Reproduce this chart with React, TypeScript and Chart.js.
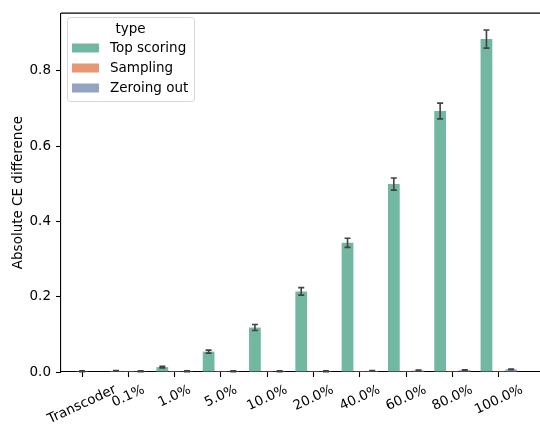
import React, { useEffect, useRef } from 'react';
import { Chart, registerables } from 'chart.js';

Chart.register(...registerables);

const categories = ['Transcoder', '0.1%', '1.0%', '5.0%', '10.0%', '20.0%', '40.0%', '60.0%', '80.0%', '100.0%'];
const seriesNames = ['Top scoring', 'Sampling', 'Zeroing out'];

const topScoring = [null, 0.003, 0.013, 0.054, 0.118, 0.214, 0.343, 0.499, 0.693, 0.884];
const topScoringErr = [null, 0.001, 0.002, 0.004, 0.008, 0.01, 0.012, 0.016, 0.021, 0.024];
const sampling = [0.002, 0.0003, 0.0003, 0.0003, 0.0003, 0.0003, 0.0003, 0.0003, 0.0003, 0.0003];
const samplingErr = [0.001, 0, 0, 0, 0, 0, 0, 0, 0, 0];
const zeroingOut = [null, 0.002, 0.002, 0.002, 0.002, 0.002, 0.003, 0.004, 0.005, 0.007];
const zeroingOutErr = [null, 0.001, 0.001, 0.001, 0.001, 0.001, 0.001, 0.001, 0.001, 0.001];

const yTicks = [0, 0.2, 0.4, 0.6, 0.8];
const yTitle = 'Absolute CE difference';
const legendTitle = 'type';

const colors = ['#71b7a1', '#e99675', '#95a3c3'];
const FONT = '"DejaVu Sans", sans-serif';
const FS = 13.5;

export default function App() {
  const ref = useRef<HTMLCanvasElement | null>(null);

  useEffect(() => {
    document.body.style.margin = '0';
    const canvas = ref.current;
    if (!canvas) return;
    const values = [topScoring, sampling, zeroingOut];
    const errs = [topScoringErr, samplingErr, zeroingOutErr];
    const toPts = (arr: (number | null)[]) => categories.map((_, i) => ({ x: i, y: arr[i] }));

    const custom = {
      id: 'custom',
      afterDatasetsDraw(chart: any) {
        const ctx = chart.ctx;
        const ys = chart.scales.y;
        ctx.save();
        ctx.strokeStyle = '#424242';
        ctx.lineWidth = 1.6;
        chart.data.datasets.forEach((_: any, di: number) => {
          const meta = chart.getDatasetMeta(di);
          meta.data.forEach((el: any, i: number) => {
            const v = values[di][i];
            const e = errs[di][i];
            if (v == null || e == null || e <= 0) return;
            const x = el.x;
            const y1 = ys.getPixelForValue(v - e);
            const y2 = ys.getPixelForValue(v + e);
            ctx.beginPath();
            ctx.moveTo(x, y1);
            ctx.lineTo(x, y2);
            ctx.moveTo(x - 3, y1);
            ctx.lineTo(x + 3, y1);
            ctx.moveTo(x - 3, y2);
            ctx.lineTo(x + 3, y2);
            ctx.stroke();
          });
        });
        ctx.restore();
      },
      afterDraw(chart: any) {
        const ctx = chart.ctx;
        const area = chart.chartArea;
        const xs = chart.scales.x;
        ctx.save();
        // top spine
        ctx.strokeStyle = '#000';
        ctx.lineWidth = 1.1;
        ctx.beginPath();
        ctx.moveTo(area.left, area.top);
        ctx.lineTo(area.right, area.top);
        ctx.stroke();

        // x tick labels (rotated, centered)
        ctx.fillStyle = '#000';
        ctx.font = `${FS}px ${FONT}`;
        const th = (25 * Math.PI) / 180;
        const h = FS * 1.15;
        categories.forEach((lab, i) => {
          const tx = xs.getPixelForValue(i);
          const w = ctx.measureText(lab).width;
          const bh = w * Math.sin(th) + h * Math.cos(th);
          const cy = area.bottom + 10 + bh / 2;
          ctx.save();
          ctx.translate(tx, cy);
          ctx.rotate(-th);
          ctx.textAlign = 'center';
          ctx.textBaseline = 'middle';
          ctx.fillText(lab, 0, 0);
          ctx.restore();
        });

        // y title
        ctx.save();
        ctx.translate(18, (area.top + area.bottom) / 2);
        ctx.rotate(-Math.PI / 2);
        ctx.textAlign = 'center';
        ctx.textBaseline = 'middle';
        ctx.fillText(yTitle, 0, 0);
        ctx.restore();

        // legend
        const lx = 67, ly = 17, lw = 127, lh = 84;
        ctx.beginPath();
        ctx.roundRect(lx + 0.5, ly + 0.5, lw, lh, 3);
        ctx.fillStyle = 'rgba(255,255,255,0.8)';
        ctx.fill();
        ctx.strokeStyle = '#d6d6d6';
        ctx.lineWidth = 1;
        ctx.stroke();
        ctx.fillStyle = '#000';
        ctx.textAlign = 'center';
        ctx.textBaseline = 'middle';
        ctx.fillText(legendTitle, lx + lw / 2, 29);
        ctx.textAlign = 'left';
        seriesNames.forEach((name, i) => {
          const cy = 48 + i * 20;
          ctx.fillStyle = colors[i];
          ctx.fillRect(72, cy - 4.5, 27, 9);
          ctx.fillStyle = '#000';
          ctx.fillText(name, 110, cy);
        });
        ctx.restore();
      },
    };

    const chart = new Chart(canvas, {
      type: 'bar',
      data: {
        datasets: seriesNames.map((name, i) => ({
          label: name,
          data: toPts(values[i]) as any,
          backgroundColor: colors[i],
          borderWidth: 0,
          categoryPercentage: 0.8,
          barPercentage: 0.95,
        })),
      },
      options: {
        animation: false,
        responsive: false,
        layout: { padding: { top: 10, left: 0, right: 0, bottom: 0 } },
        plugins: { legend: { display: false }, tooltip: { enabled: false } },
        scales: {
          x: {
            type: 'linear',
            offset: false,
            min: -0.455,
            max: 9.89,
            ticks: { display: false },
            grid: { offset: false, drawOnChartArea: false, drawTicks: true, tickLength: 5, color: '#000', tickWidth: 1.1 },
            border: { display: true, color: '#000', width: 1.1 },
            afterBuildTicks: (s: any) => {
              s.ticks = categories.map((_, i) => ({ value: i }));
            },
            afterFit: (s: any) => {
              s.height = 55;
            },
          },
          y: {
            type: 'linear',
            min: 0,
            max: 0.953,
            ticks: {
              includeBounds: false,
              color: '#000',
              padding: 5,
              font: { family: FONT, size: FS },
              callback: (v: any) => Number(v).toFixed(1),
            },
            afterBuildTicks: (s: any) => {
              s.ticks = yTicks.map((v) => ({ value: v }));
            },
            grid: { drawOnChartArea: false, drawTicks: true, tickLength: 5, color: '#000', tickWidth: 1.1 },
            border: { display: true, color: '#000', width: 1.1 },
            afterFit: (s: any) => {
              s.width = 61;
            },
          },
        },
      },
      plugins: [custom],
    });
    return () => chart.destroy();
  }, []);

  return (
    <canvas
      ref={ref}
      width={540}
      height={427}
      style={{ position: 'absolute', left: 0, top: 0, display: 'block', width: 540, height: 427 }}
    />
  );
}
